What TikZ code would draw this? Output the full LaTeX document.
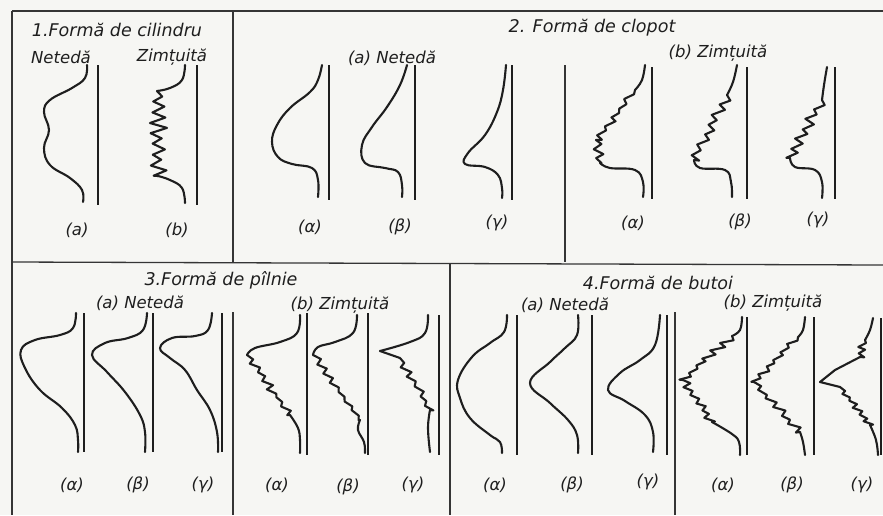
\documentclass[tikz,border=0pt]{standalone}
\usepackage{fontspec}
\newfontfamily\hand{DejaVu Sans}
\definecolor{paper}{RGB}{246,246,243}
\definecolor{ink}{RGB}{30,30,30}
\newcommand\jag[6]{\draw[curve] (#1,#2) \foreach \i in {1,...,#5}{ -- ({#1+(#3-#1)*\i/#5+(2*mod(\i,2)-1)*#6*(0.25+0.75*rnd)},{#2+(#4-#2)*\i/#5+1.2*(rnd-0.5)}) } -- (#3,#4);}
\begin{document}
\begin{tikzpicture}[x=1pt,y=-1pt,
  curve/.style={line width=2.1pt,draw=ink,line cap=round,line join=round},
  base/.style={line width=1.5pt,draw=ink},
  frame/.style={line width=1.3pt,draw=ink!90},
  lbl/.style={font=\hand\itshape\fontsize{16.5}{18}\selectfont,text=ink,inner sep=0pt},
  ttl/.style={font=\hand\itshape\fontsize{17.5}{19}\selectfont,text=ink,inner sep=0pt}]
\pgfmathsetseed{11}
\fill[paper] (0,0) rectangle (883,515);
\useasboundingbox (0,0) rectangle (883,515);
% frames
\draw[frame] (12,11) -- (883,11);
\draw[frame] (12,11) -- (12,515);
\draw[frame] (233,11) -- (233,262);
\draw[frame] (565,65) -- (565,262);
\draw[frame] (12,262) -- (883,265);
\draw[frame] (233,312) -- (233,515);
\draw[frame] (450,263) -- (450,515);
\draw[frame] (675,312) -- (675,515);
% ---------- panel 1
\node[ttl] (t1) at (117,30) {1.Formă de cilindru};
\node[lbl] (t1a) at (61,57) {Netedă};
\node[lbl] (t1b) at (172,57) {Zimțuită};
\draw[curve] plot[smooth,tension=0.7] coordinates {(87,65) (85,78) (72,88) (50,100) (44,112) (49,130) (44,148) (50,165) (70,178) (82,190) (83,202)};
\draw[base] (98,65) -- (98,205);
\draw[curve] plot[smooth,tension=0.7] coordinates {(185,65) (182,80) (170,88) (157,91)};
\jag{157}{91}{158}{176}{16}{10}
\draw[curve] plot[smooth,tension=0.7] coordinates {(158,176) (170,180) (182,188) (185,203)};
\draw[base] (197,65) -- (197,205);
\node[lbl] (l1a) at (77,230) {(a)};
\node[lbl] (l1b) at (177,230) {(b)};
% ---------- panel 2
\node[ttl] (t2) at (592,28) {2. Formă de clopot};
\node[lbl] (t2a) at (392,58) {(a) Netedă};
\node[lbl] (t2b) at (718,53) {(b) Zimțuită};
\draw[curve] plot[smooth,tension=0.7] coordinates {(322,65) (318,80) (310,92) (290,108) (277,125) (272,142) (278,157) (292,164) (312,168) (318,180) (318,197)};
\draw[curve] plot[smooth,tension=0.7] coordinates {(407,65) (400,85) (387,107) (372,127) (362,145) (365,163) (385,168) (398,172) (402,185) (402,197)};
\draw[curve] plot[smooth,tension=0.7] coordinates {(506,65) (503,90) (497,112) (485,135) (468,153) (465,164) (485,167) (498,175) (502,188) (502,198)};
\draw[base] (329,65) -- (329,200);
\draw[base] (415,65) -- (415,200);
\draw[base] (512,65) -- (512,200);
\draw[curve] plot[smooth,tension=0.7] coordinates {(645,65) (642,80) (635,90)};
\jag{635}{90}{596}{140}{11}{6}
\jag{596}{140}{600}{163}{5}{6}
\draw[curve] plot[smooth,tension=0.7] coordinates {(600,163) (610,168) (635,170) (643,182) (643,197)};
\draw[curve] plot[smooth,tension=0.7] coordinates {(737,65) (733,82) (727,95)};
\jag{727}{95}{694}{160}{13}{6}
\draw[curve] plot[smooth,tension=0.7] coordinates {(694,160) (700,168) (725,170) (731,182) (732,197)};
\draw[curve] plot[smooth,tension=0.7] coordinates {(827,67) (824,85) (822,100)};
\jag{822}{100}{790}{158}{12}{6}
\draw[curve] plot[smooth,tension=0.7] coordinates {(790,158) (795,167) (815,170) (822,182) (822,198)};
\draw[base] (652,67) -- (652,199);
\draw[base] (747,67) -- (747,199);
\draw[base] (835,67) -- (835,199);
\node[lbl] (l2a1) at (310,227) {(α)};
\node[lbl] (l2a2) at (400,227) {(β)};
\node[lbl] (l2a3) at (497,223) {(γ)};
\node[lbl] (l2b1) at (633,223) {(α)};
\node[lbl] (l2b2) at (740,222) {(β)};
\node[lbl] (l2b3) at (818,220) {(γ)};
% ---------- panel 3
\node[ttl] (t3) at (221,280) {3.Formă de pîlnie};
\node[lbl] (t3a) at (140,303) {(a) Netedă};
\node[lbl] (t3b) at (340,305) {(b) Zimțuită};
\draw[curve] plot[smooth,tension=0.7] coordinates {(76,313) (73,328) (60,335) (35,340) (21,350) (25,368) (40,390) (62,408) (75,425) (78,440) (78,452)};
\draw[curve] plot[smooth,tension=0.7] coordinates {(147,313) (143,330) (128,338) (105,343) (92,355) (107,372) (125,392) (140,415) (145,432) (145,452)};
\draw[curve] plot[smooth,tension=0.7] coordinates {(212,313) (208,330) (195,336) (172,338) (160,348) (170,358) (185,370) (197,390) (210,410) (217,432) (218,452)};
\draw[base] (84,313) -- (84,452);
\draw[base] (153,313) -- (153,452);
\draw[base] (222,313) -- (222,452);
\draw[curve] plot[smooth,tension=0.7] coordinates {(300,315) (297,333) (280,342) (255,348) (247,355)};
\jag{247}{355}{290}{415}{14}{5}
\draw[curve] plot[smooth,tension=0.7] coordinates {(290,415) (298,428) (300,440) (300,453)};
\draw[curve] plot[smooth,tension=0.7] coordinates {(357,315) (353,333) (335,342) (318,347) (313,355)};
\jag{313}{355}{360}{420}{14}{5}
\draw[curve] plot[smooth,tension=0.7] coordinates {(360,420) (358,430) (364,442) (365,453)};
\draw[curve] plot[smooth,tension=0.7] coordinates {(428,315) (425,333) (410,342) (380,351)};
\draw[curve] (380,351) -- (400,358);
\jag{400}{358}{430}{410}{11}{5}
\draw[curve] plot[smooth,tension=0.7] coordinates {(430,410) (428,428) (430,452)};
\draw[base] (307,313) -- (307,455);
\draw[base] (368,313) -- (368,455);
\draw[base] (439,315) -- (439,455);
\node[lbl] (l3a1) at (72,485) {(α)};
\node[lbl] (l3a2) at (138,485) {(β)};
\node[lbl] (l3a3) at (203,485) {(γ)};
\node[lbl] (l3b1) at (277,485) {(α)};
\node[lbl] (l3b2) at (348,487) {(β)};
\node[lbl] (l3b3) at (413,485) {(γ)};
% ---------- panel 4
\node[ttl] (t4) at (658,283) {4.Formă de butoi};
\node[lbl] (t4a) at (565,305) {(a) Netedă};
\node[lbl] (t4b) at (773,303) {(b) Zimțuită};
\draw[curve] plot[smooth,tension=0.7] coordinates {(507,315) (504,332) (490,343) (472,357) (458,380) (460,398) (470,418) (490,435) (500,442) (502,453)};
\draw[curve] plot[smooth,tension=0.7] coordinates {(578,315) (577,335) (565,348) (550,362) (530,383) (550,403) (568,420) (577,435) (578,453)};
\draw[curve] plot[smooth,tension=0.7] coordinates {(660,315) (655,345) (640,360) (620,373) (608,390) (625,401) (645,415) (653,432) (653,452)};
\draw[base] (517,315) -- (517,455);
\draw[base] (592,315) -- (592,455);
\draw[base] (667,315) -- (667,455);
\draw[curve] plot[smooth,tension=0.7] coordinates {(742,317) (740,330) (732,336)};
\jag{732}{336}{683}{380}{12}{6}
\jag{683}{380}{712}{422}{11}{6}
\draw[curve] plot[smooth,tension=0.7] coordinates {(712,422) (732,434) (739,442) (740,455)};
\draw[curve] plot[smooth,tension=0.7] coordinates {(805,317) (803,330) (798,337)};
\jag{798}{337}{754}{382}{12}{5}
\jag{754}{382}{800}{432}{12}{5}
\draw[curve] plot[smooth,tension=0.7] coordinates {(800,432) (803,442) (805,455)};
\draw[curve] plot[smooth,tension=0.7] coordinates {(873,318) (870,330) (865,340)};
\jag{865}{340}{860}{357}{5}{5}
\draw[curve] (860,357) -- (835,370) -- (820,382) -- (840,387);
\jag{840}{387}{870}{425}{11}{4}
\draw[curve] plot[smooth,tension=0.7] coordinates {(870,425) (876,440) (878,455)};
\draw[base] (747,317) -- (747,455);
\draw[base] (814,317) -- (814,455);
\draw[base] (881,318) -- (881,455);
\node[lbl] (l4a1) at (495,485) {(α)};
\node[lbl] (l4a2) at (572,485) {(β)};
\node[lbl] (l4a3) at (648,482) {(γ)};
\node[lbl] (l4b1) at (723,485) {(α)};
\node[lbl] (l4b2) at (792,485) {(β)};
\node[lbl] (l4b3) at (862,485) {(γ)};
\end{tikzpicture}
\end{document}
